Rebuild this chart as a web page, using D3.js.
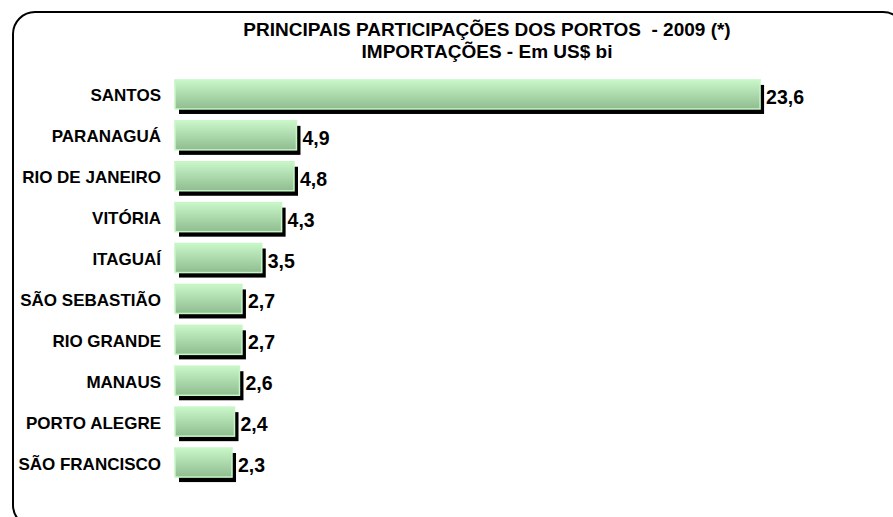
<!DOCTYPE html>
<html>
<head>
<meta charset="utf-8">
<script src="https://cdn.jsdelivr.net/npm/d3@7"></script>
<style>
	body { margin: 0; background: #fff; }
	svg { display: block; font-family: 'Liberation Sans', Arial, sans-serif; }
</style>
</head>
<body>
<div id="chart"></div>
<script>
const ports = ['SANTOS', 'PARANAGUÁ', 'RIO DE JANEIRO', 'VITÓRIA', 'ITAGUAÍ',
	'SÃO SEBASTIÃO', 'RIO GRANDE', 'MANAUS', 'PORTO ALEGRE', 'SÃO FRANCISCO']
const values = [23.6, 4.9, 4.8, 4.3, 3.5, 2.7, 2.7, 2.6, 2.4, 2.3]
const titleLines = ['PRINCIPAIS PARTICIPAÇÕES DOS PORTOS  - 2009 (*)', 'IMPORTAÇÕES - Em US$ bi']

const width = 893
const height = 517

const svg = d3
	.select('#chart')
	.append('svg')
	.attr('width', width)
	.attr('height', height)

const defs = svg.append('defs')
const grad = defs
	.append('linearGradient')
	.attr('id', 'barFill')
	.attr('x1', 0).attr('y1', 0)
	.attr('x2', 0).attr('y2', 1)
grad.append('stop').attr('offset', '0%').attr('stop-color', '#c9f7c9')
grad.append('stop').attr('offset', '100%').attr('stop-color', '#8fbd8f')

// outer frame, runs off the right and bottom edges
svg.append('rect')
	.attr('x', 13)
	.attr('y', 12)
	.attr('width', 892)
	.attr('height', 515)
	.attr('rx', 22)
	.attr('fill', 'none')
	.attr('stroke', '#000')
	.attr('stroke-width', 2)

svg.append('g')
	.selectAll('text')
	.data(titleLines)
	.enter()
	.append('text')
	.attr('x', 487)
	.attr('y', (d, i) => 36 + i * 22)
	.attr('text-anchor', 'middle')
	.attr('font-size', 19)
	.attr('font-weight', 'bold')
	.style('white-space', 'pre')
	.text(d => d)

const x = d3.scaleLinear().domain([0, 24]).range([175, 770])
const y = d3
	.scaleBand()
	.domain(ports)
	.range([74, 483])
	.paddingInner(0.29)
	.paddingOuter(0.145)

const rows = svg
	.append('g')
	.selectAll('g')
	.data(ports.map((p, i) => ({ port: p, value: values[i] })))
	.enter()
	.append('g')

// shadow
rows.append('rect')
	.attr('x', x(0) + 4)
	.attr('y', d => y(d.port) + 5)
	.attr('width', d => x(d.value) - x(0))
	.attr('height', y.bandwidth())
	.attr('fill', '#000')

rows.append('rect')
	.attr('x', x(0))
	.attr('y', d => y(d.port))
	.attr('width', d => x(d.value) - x(0))
	.attr('height', y.bandwidth())
	.attr('fill', 'url(#barFill)')
	.attr('stroke', '#c6f6c6')
	.attr('stroke-width', 1.5)

rows.append('text')
	.attr('x', 161)
	.attr('y', d => y(d.port) + y.bandwidth() / 2 + 7)
	.attr('text-anchor', 'end')
	.attr('font-size', 17)
	.attr('font-weight', 'bold')
	.text(d => d.port)

rows.append('text')
	.attr('x', d => x(d.value) + 6)
	.attr('y', d => y(d.port) + y.bandwidth() / 2 + 9.5)
	.attr('font-size', 19.5)
	.attr('font-weight', 'bold')
	.text(d => d3.format('.1f')(d.value).replace('.', ','))
</script>
</body>
</html>
